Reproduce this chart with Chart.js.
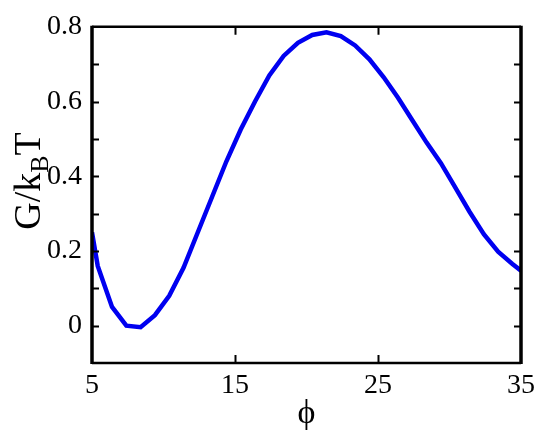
<!DOCTYPE html>
<html>
<head>
<meta charset="utf-8">
<script src="https://cdn.jsdelivr.net/npm/chart.js@4/dist/chart.umd.min.js"></script>
<style>
  html, body { margin: 0; padding: 0; background: #fff; }
  #wrap { width: 541px; height: 437px; }
</style>
</head>
<body>
<div id="wrap"><canvas id="freeEnergyChart" width="541" height="437"></canvas></div>
<script>
// values
const phiValues = [5, 5.4, 6.4, 7.4, 8.4, 9.4, 10.4, 11.4, 12.4, 13.4, 14.4, 15.4, 16.4, 17.4, 18.4, 19.4,
  20.4, 21.4, 22.4, 23.4, 24.4, 25.4, 26.4, 27.4, 28.4, 29.4, 30.4, 31.4, 32.4, 33.4, 34.4, 35];
const gValues = [0.25, 0.16, 0.05, 0.0, -0.004, 0.028, 0.08, 0.155, 0.25, 0.345, 0.44, 0.525, 0.6, 0.67, 0.722, 0.757,
  0.778, 0.785, 0.775, 0.75, 0.713, 0.665, 0.61, 0.55, 0.49, 0.435, 0.37, 0.305, 0.245, 0.198, 0.165, 0.147];
const xTickValues = [5, 15, 25, 35];
const yTickValues = [-0.1, 0, 0.1, 0.2, 0.3, 0.4, 0.5, 0.6, 0.7, 0.8];
const yLabelValues = [0, 0.2, 0.4, 0.6, 0.8];

const serif = "'Liberation Serif', 'Times New Roman', serif";

const framePlugin = {
  id: "frame",
  afterDraw: (chart) => {
    const { ctx, chartArea: area, scales } = chart;
    ctx.save();
    ctx.strokeStyle = "#000";
    ctx.lineCap = "butt";

    // inward tick marks
    ctx.lineWidth = 2;
    yTickValues.forEach((v) => {
      if (v <= -0.1 || v >= 0.8) return;
      const py = Math.round(scales.y.getPixelForValue(v)) + 0.5;
      ctx.beginPath();
      ctx.moveTo(area.left, py);
      ctx.lineTo(area.left + 7, py);
      ctx.moveTo(area.right, py);
      ctx.lineTo(area.right - 7, py);
      ctx.stroke();
    });
    xTickValues.slice(1, -1).forEach((v) => {
      const px = Math.round(scales.x.getPixelForValue(v)) + 0.5;
      ctx.beginPath();
      ctx.moveTo(px, area.bottom);
      ctx.lineTo(px, area.bottom - 8);
      ctx.moveTo(px, area.top);
      ctx.lineTo(px, area.top + 8);
      ctx.stroke();
    });

    // box: thin top/bottom, thick left/right
    ctx.lineWidth = 2.5;
    ctx.beginPath();
    ctx.moveTo(area.left, area.top);
    ctx.lineTo(area.right, area.top);
    ctx.moveTo(area.left, area.bottom);
    ctx.lineTo(area.right, area.bottom);
    ctx.stroke();
    ctx.lineWidth = 3.5;
    ctx.beginPath();
    ctx.moveTo(area.left, area.top - 1);
    ctx.lineTo(area.left, area.bottom + 1);
    ctx.moveTo(area.right, area.top - 1);
    ctx.lineTo(area.right, area.bottom + 1);
    ctx.stroke();

    // axis titles
    ctx.fillStyle = "#000";
    ctx.textBaseline = "alphabetic";
    ctx.font = "34px " + serif;
    ctx.textAlign = "center";
    ctx.fillText("\u03d5", (area.left + area.right) / 2, 423);

    ctx.translate(40, 181);
    ctx.rotate(-Math.PI / 2);
    const big = "38px " + serif;
    const small = "26px " + serif;
    ctx.font = big;
    const wMain = ctx.measureText("G/k").width;
    const wT = ctx.measureText("T").width;
    ctx.font = small;
    const wB = ctx.measureText("B").width;
    let cx = -(wMain + wB + wT) / 2;
    ctx.textAlign = "left";
    ctx.font = big;
    ctx.fillText("G/k", cx, 0);
    cx += wMain;
    ctx.font = small;
    ctx.fillText("B", cx, 8);
    cx += wB;
    ctx.font = big;
    ctx.fillText("T", cx, 0);
    ctx.restore();
  },
};

new Chart(document.getElementById("freeEnergyChart"), {
  type: "line",
  data: {
    datasets: [
      {
        data: phiValues.map((phi, i) => ({ x: phi, y: gValues[i] })),
        borderColor: "#0000f0",
        borderWidth: 4.5,
        pointRadius: 0,
        tension: 0,
        fill: false,
      },
    ],
  },
  options: {
    responsive: false,
    animation: false,
    layout: { padding: { left: 0, top: 25, right: 18, bottom: 0 } },
    plugins: {
      legend: { display: false },
      tooltip: { enabled: false },
    },
    scales: {
      x: {
        type: "linear",
        min: 5,
        max: 35,
        afterBuildTicks: (scale) => {
          scale.ticks = xTickValues.map((v) => ({ value: v }));
        },
        afterFit: (scale) => {
          scale.height = 74;
        },
        grid: { display: false, drawTicks: false },
        border: { display: false },
        ticks: {
          color: "#000",
          font: { family: serif, size: 28 },
          padding: 6,
          maxRotation: 0,
          autoSkip: false,
        },
      },
      y: {
        type: "linear",
        min: -0.1,
        max: 0.8,
        afterBuildTicks: (scale) => {
          scale.ticks = yTickValues.map((v) => ({ value: v }));
        },
        afterFit: (scale) => {
          scale.width = 92;
        },
        grid: { display: false, drawTicks: false },
        border: { display: false },
        ticks: {
          color: "#000",
          font: { family: serif, size: 28 },
          padding: 10,
          autoSkip: false,
          callback: (value) => {
            const hit = yLabelValues.find((v) => Math.abs(v - value) < 1e-6);
            if (hit === undefined) return "";
            return hit === 0 ? "0" : hit.toFixed(1);
          },
        },
      },
    },
  },
  plugins: [framePlugin],
});
</script>
</body>
</html>
